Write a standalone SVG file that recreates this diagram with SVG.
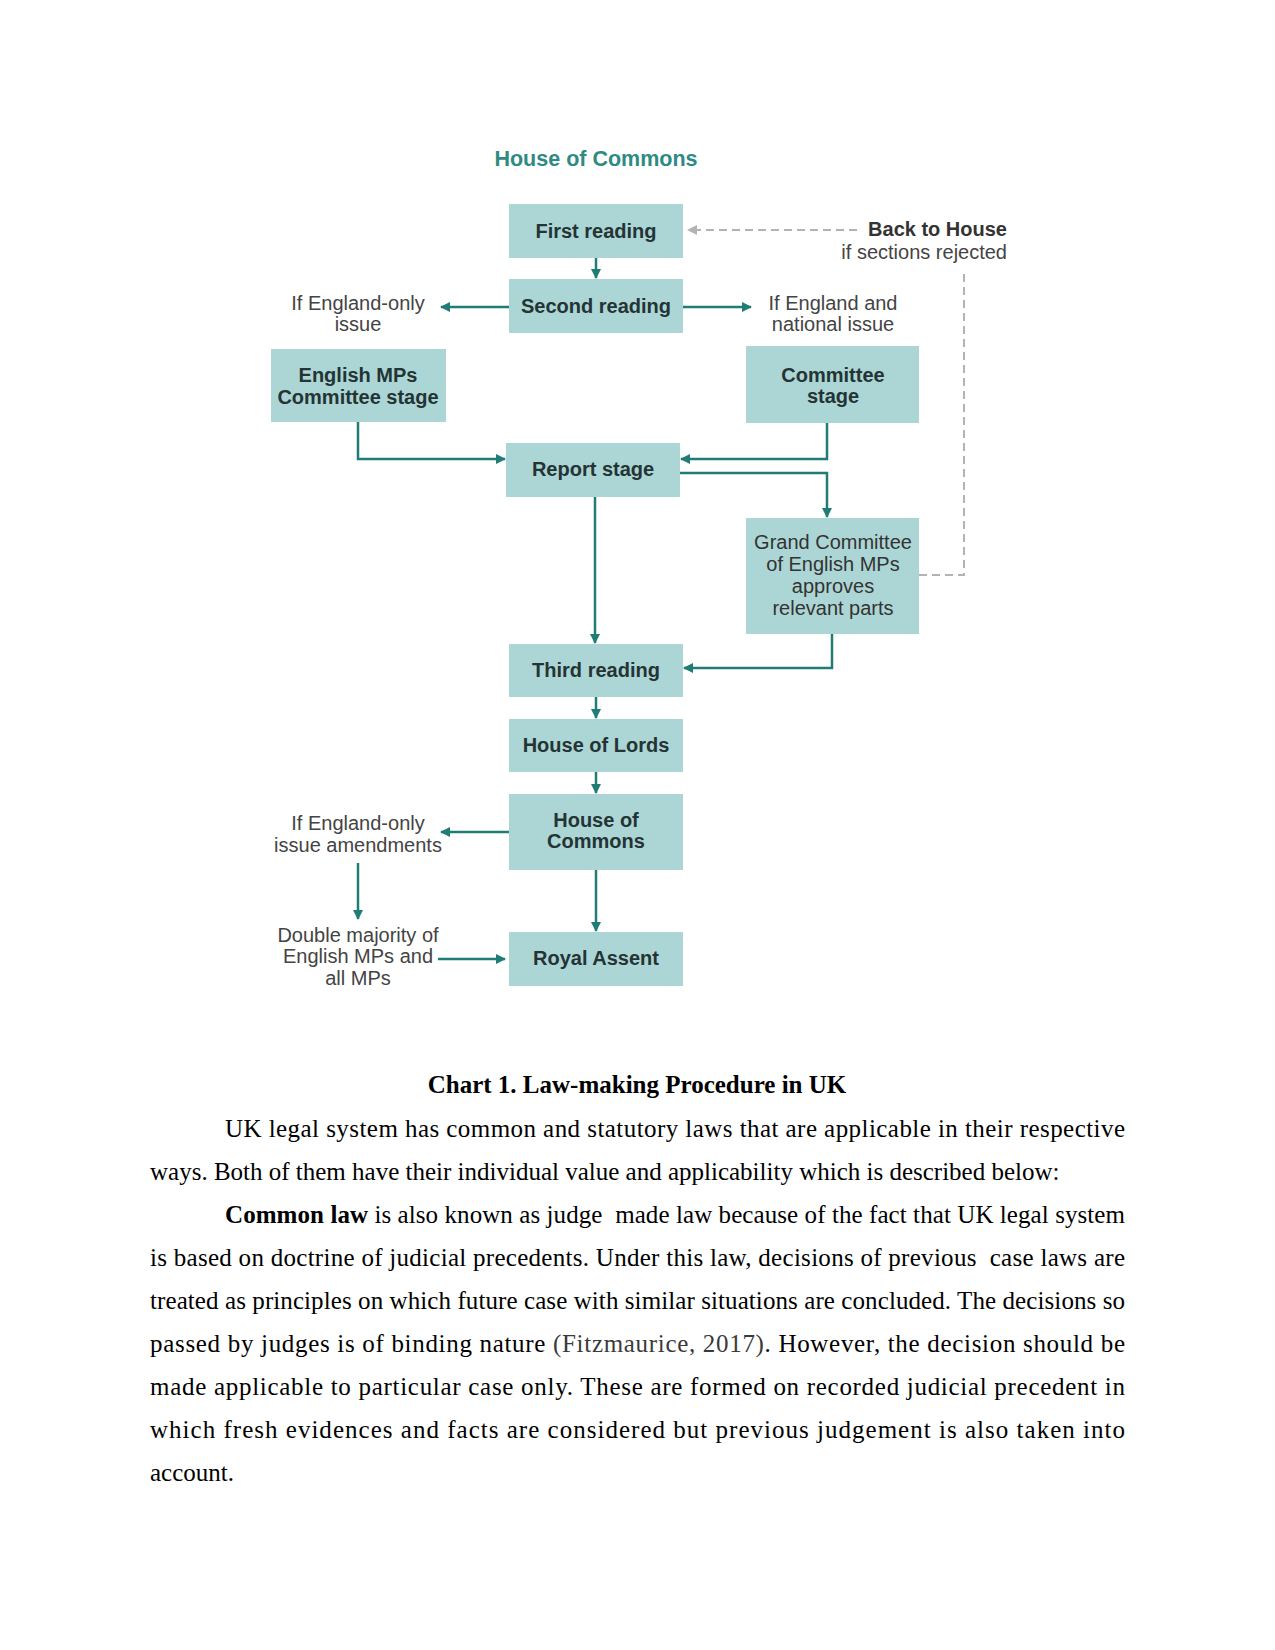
<svg xmlns="http://www.w3.org/2000/svg" width="1275" height="1650" viewBox="0 0 1275 1650">
<style>
.box{fill:#acd6d5;}
.bt{font-family:"Liberation Sans",Arial,sans-serif;font-size:20px;font-weight:bold;fill:#243434;text-anchor:middle;}
.bn{font-family:"Liberation Sans",Arial,sans-serif;font-size:20px;fill:#333;text-anchor:middle;}
.lb{font-family:"Liberation Sans",Arial,sans-serif;font-size:20px;fill:#444;text-anchor:middle;}
.ttl{font-family:"Liberation Sans",Arial,sans-serif;font-size:21.5px;font-weight:bold;fill:#2e8a83;text-anchor:middle;}
.c{fill:none;stroke:#1f7d75;stroke-width:2.5;}
.d{fill:none;stroke:#b3b3b3;stroke-width:2;stroke-dasharray:8,5;}
.p{font-family:"Liberation Serif","Times New Roman",serif;font-size:25px;fill:#000;white-space:pre;}
</style>
<defs>
<marker id="a" markerWidth="10" markerHeight="10" refX="9" refY="5" orient="auto" markerUnits="userSpaceOnUse">
<path d="M0,0 L10,5 L0,10 Z" fill="#1f7d75"/>
</marker>
<marker id="g" markerWidth="10" markerHeight="10" refX="9" refY="5" orient="auto" markerUnits="userSpaceOnUse">
<path d="M0,0 L10,5 L0,10 Z" fill="#b3b3b3"/>
</marker>
</defs>
<rect width="1275" height="1650" fill="#fff"/>

<text class="ttl" x="596" y="166">House of Commons</text>

<g id="connectors">
<line class="c" x1="596" y1="258" x2="596" y2="278" marker-end="url(#a)"/>
<line class="c" x1="509" y1="307" x2="441" y2="307" marker-end="url(#a)"/>
<line class="c" x1="683" y1="307" x2="751" y2="307" marker-end="url(#a)"/>
<polyline class="c" points="358,422 358,459 505,459" marker-end="url(#a)"/>
<polyline class="c" points="827,423 827,459 681,459" marker-end="url(#a)"/>
<polyline class="c" points="680,473 827,473 827,517" marker-end="url(#a)"/>
<line class="c" x1="595" y1="497" x2="595" y2="643" marker-end="url(#a)"/>
<polyline class="c" points="832,634 832,668 684,668" marker-end="url(#a)"/>
<line class="c" x1="596" y1="697" x2="596" y2="718" marker-end="url(#a)"/>
<line class="c" x1="596" y1="772" x2="596" y2="793" marker-end="url(#a)"/>
<line class="c" x1="596" y1="870" x2="596" y2="931" marker-end="url(#a)"/>
<line class="c" x1="509" y1="832" x2="441" y2="832" marker-end="url(#a)"/>
<line class="c" x1="358" y1="863" x2="358" y2="919" marker-end="url(#a)"/>
<line class="c" x1="438" y1="959" x2="505" y2="959" marker-end="url(#a)"/>
<polyline class="d" points="919,575 964,575 964,272"/>
<line class="d" x1="857" y1="230" x2="688" y2="230" marker-end="url(#g)"/>
</g>

<g id="first-reading"><rect class="box" x="509" y="204" width="174" height="54"/><text class="bt" x="596" y="238">First reading</text></g>
<g id="second-reading"><rect class="box" x="509" y="279" width="174" height="54"/><text class="bt" x="596" y="313">Second reading</text></g>
<g id="english-mps-committee"><rect class="box" x="271" y="349" width="175" height="73"/><text class="bt" x="358" y="382">English MPs</text><text class="bt" x="358" y="404">Committee stage</text></g>
<g id="committee-stage"><rect class="box" x="746" y="346" width="173" height="77"/><text class="bt" x="833" y="382">Committee</text><text class="bt" x="833" y="403">stage</text></g>
<g id="report-stage"><rect class="box" x="506" y="443" width="174" height="54"/><text class="bt" x="593" y="476">Report stage</text></g>
<g id="grand-committee"><rect class="box" x="746" y="518" width="173" height="116"/><text class="bn" x="833" y="549">Grand Committee</text><text class="bn" x="833" y="571">of English MPs</text><text class="bn" x="833" y="593">approves</text><text class="bn" x="833" y="615">relevant parts</text></g>
<g id="third-reading"><rect class="box" x="509" y="644" width="174" height="53"/><text class="bt" x="596" y="677">Third reading</text></g>
<g id="house-of-lords"><rect class="box" x="509" y="719" width="174" height="53"/><text class="bt" x="596" y="752">House of Lords</text></g>
<g id="house-of-commons"><rect class="box" x="509" y="794" width="174" height="76"/><text class="bt" x="596" y="827">House of</text><text class="bt" x="596" y="848">Commons</text></g>
<g id="royal-assent"><rect class="box" x="509" y="932" width="174" height="54"/><text class="bt" x="596" y="965">Royal Assent</text></g>

<g id="label-back"><text class="bt" x="1007" y="236" style="text-anchor:end;fill:#333">Back to House</text><text class="lb" x="1007" y="259" style="text-anchor:end">if sections rejected</text></g>
<g id="label-england-only"><text class="lb" x="358" y="310">If England-only</text><text class="lb" x="358" y="331">issue</text></g>
<g id="label-england-national"><text class="lb" x="833" y="310">If England and</text><text class="lb" x="833" y="331">national issue</text></g>
<g id="label-amendments"><text class="lb" x="358" y="830">If England-only</text><text class="lb" x="358" y="852">issue amendments</text></g>
<g id="label-double-majority"><text class="lb" x="358" y="942">Double majority of</text><text class="lb" x="358" y="963">English MPs and</text><text class="lb" x="358" y="985">all MPs</text></g>

<text class="p" x="637" y="1093" style="text-anchor:middle;font-weight:bold">Chart 1. Law-making Procedure in UK</text>
<text class="p" x="225" y="1137" textLength="900" lengthAdjust="spacing">UK legal system has common and statutory laws that are applicable in their respective</text>
<text class="p" x="150" y="1180">ways. Both of them have their individual value and applicability which is described below:</text>
<text class="p" x="225" y="1223" textLength="900" lengthAdjust="spacing"><tspan font-weight="bold">Common law</tspan> is also known as judge  made law because of the fact that UK legal system</text>
<text class="p" x="150" y="1266" textLength="975" lengthAdjust="spacing">is based on doctrine of judicial precedents. Under this law, decisions of previous  case laws are</text>
<text class="p" x="150" y="1309" textLength="975" lengthAdjust="spacing">treated as principles on which future case with similar situations are concluded. The decisions so</text>
<text class="p" x="150" y="1352" textLength="975" lengthAdjust="spacing">passed by judges is of binding nature <tspan fill="#3a3a3a">(Fitzmaurice, 2017)</tspan>. However, the decision should be</text>
<text class="p" x="150" y="1395" textLength="975" lengthAdjust="spacing">made applicable to particular case only. These are formed on recorded judicial precedent in</text>
<text class="p" x="150" y="1438" textLength="975" lengthAdjust="spacing">which fresh evidences and facts are considered but previous judgement is also taken into</text>
<text class="p" x="150" y="1481">account.</text>
</svg>
